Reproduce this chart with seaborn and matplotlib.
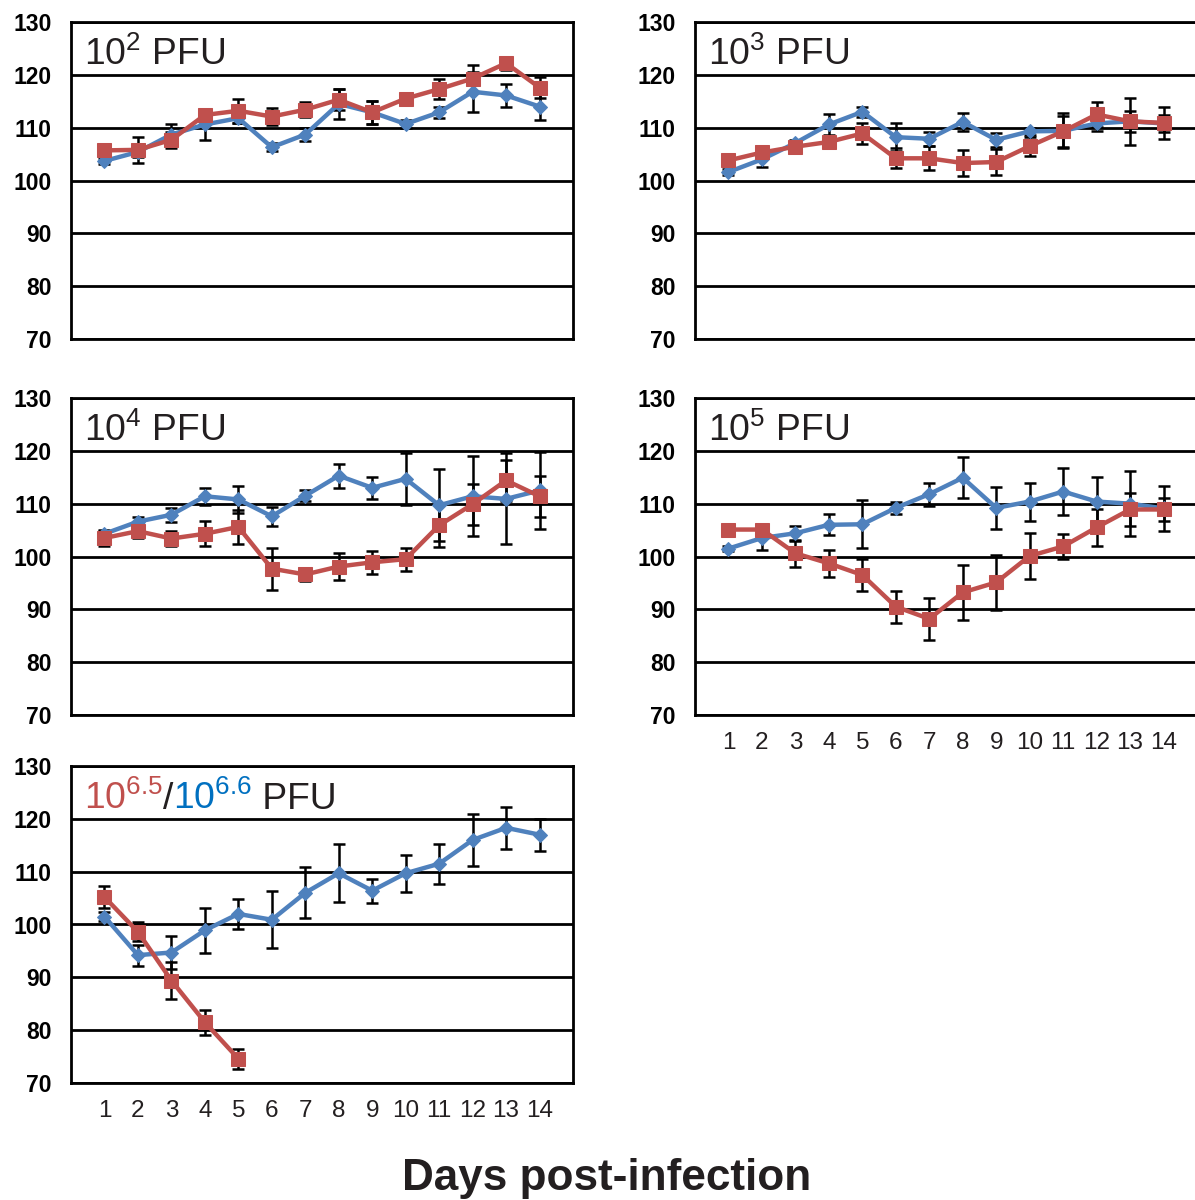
import matplotlib
matplotlib.use('Agg')
import matplotlib.pyplot as plt
import seaborn as sns

days = list(range(1, 15))

# 10^2 PFU
p2_blue = [103.7, 105.4, 108.7, 110.6, 111.8, 106.3, 108.7, 114.5, 112.9, 110.7, 112.9, 116.8, 116.1, 114.0]
p2_blue_err = [0.6, 1.0, 1.9, 3.0, 1.0, 0.8, 1.3, 2.9, 2.2, 0.7, 1.0, 3.8, 2.1, 2.6]
p2_red = [105.7, 105.8, 107.7, 112.4, 113.2, 112.1, 113.4, 115.3, 112.9, 115.5, 117.3, 119.3, 122.2, 117.6]
p2_red_err = [0.5, 2.4, 1.5, 1.2, 2.3, 1.6, 1.4, 2.0, 2.2, 0.5, 1.9, 2.5, 1.2, 1.9]

# 10^3 PFU
p3_blue = [101.6, 104.0, 107.1, 110.6, 113.0, 108.2, 107.9, 111.1, 107.7, 109.3, 109.4, 110.8, 111.2, 110.8]
p3_blue_err = [0.5, 1.5, 0.6, 1.9, 1.0, 2.7, 1.3, 1.7, 1.3, 0.6, 3.3, 1.4, 2.0, 1.6]
p3_red = [103.8, 105.3, 106.4, 107.3, 108.9, 104.2, 104.2, 103.3, 103.5, 106.5, 109.3, 112.5, 111.2, 110.9]
p3_red_err = [0.5, 0.8, 0.7, 0.8, 1.9, 1.9, 2.3, 2.4, 2.5, 1.8, 3.0, 2.4, 4.4, 3.1]

# 10^4 PFU
p4_blue = [104.3, 106.6, 107.9, 111.4, 110.8, 107.6, 111.5, 115.3, 113.0, 114.7, 109.7, 111.4, 110.9, 112.5]
p4_blue_err = [0.5, 0.8, 1.3, 1.6, 2.5, 1.8, 1.0, 2.3, 2.1, 4.9, 6.8, 7.6, 8.6, 7.3]
p4_red = [103.5, 104.8, 103.4, 104.3, 105.6, 97.7, 96.6, 98.1, 98.9, 99.5, 105.9, 109.9, 114.4, 111.4]
p4_red_err = [1.6, 1.3, 1.5, 2.4, 3.2, 4.0, 1.2, 2.5, 2.2, 2.2, 4.1, 3.9, 3.9, 3.9]

# 10^5 PFU
p5_blue = [101.5, 103.5, 104.4, 106.0, 106.1, 109.2, 111.8, 114.9, 109.2, 110.4, 112.3, 110.4, 110.0, 109.1]
p5_blue_err = [0.5, 2.3, 1.4, 2.0, 4.5, 1.2, 2.2, 3.9, 4.0, 3.6, 4.4, 4.7, 6.1, 4.2]
p5_red = [105.1, 105.1, 100.6, 98.7, 96.5, 90.5, 88.2, 93.2, 95.1, 100.1, 101.9, 105.5, 108.9, 108.9]
p5_red_err = [0.5, 0.5, 2.6, 2.6, 3.1, 3.0, 4.0, 5.2, 5.2, 4.4, 2.4, 3.5, 3.1, 2.1]

# 10^6.5 / 10^6.6 PFU
p6_blue = [101.5, 94.2, 94.7, 98.9, 102.0, 100.9, 106.0, 109.7, 106.4, 109.7, 111.5, 116.0, 118.3, 117.0]
p6_blue_err = [0.8, 2.0, 3.1, 4.3, 2.9, 5.4, 4.8, 5.5, 2.3, 3.5, 3.8, 5.0, 4.0, 3.0]
red_days = [1, 2, 3, 4, 5]
p6_red = [105.2, 98.6, 89.4, 81.5, 74.6]
p6_red_err = [2.0, 1.8, 3.5, 2.4, 1.9]

RED = '#C0504D'
BLUE = '#4F81BD'
TXT = '#231F20'

sns.set_style('white')
plt.rcParams['font.family'] = ['Liberation Sans', 'DejaVu Sans']
plt.rcParams['mathtext.default'] = 'regular'

fig = plt.figure(figsize=(11.95, 12), dpi=100)


def make_ax(left_px, top_px, xlabels):
    ax = fig.add_axes([left_px / 1195, 1 - (top_px + 317) / 1200, 502 / 1195, 317 / 1200])
    ax.set_xlim(0, 15)
    ax.set_ylim(70, 130)
    ax.set_yticks(range(70, 131, 10))
    ax.set_xticks(days)
    ax.yaxis.grid(True, color='black', linewidth=2.0)
    ax.xaxis.grid(False)
    ax.set_axisbelow(True)
    for s in ax.spines.values():
        s.set_color('black')
        s.set_linewidth(2.0)
    ax.tick_params(axis='y', length=0, pad=14, labelsize=16.5, labelcolor='black')
    for lab in ax.get_yticklabels():
        lab.set_fontweight('bold')
    ax.tick_params(axis='x', direction='in', length=5, width=1.8, color='black',
                   pad=12, labelsize=17.5, labelcolor=TXT, labelbottom=xlabels)
    return ax


def draw(ax, xb, b, be, xr, r, re):
    ax.errorbar(xb, b, yerr=be, fmt='none', ecolor='black', elinewidth=1.8,
                capsize=4, capthick=1.8, zorder=2)
    ax.errorbar(xr, r, yerr=re, fmt='none', ecolor='black', elinewidth=1.8,
                capsize=4, capthick=1.8, zorder=2)
    sns.lineplot(x=xb, y=b, ax=ax, color=BLUE, marker='D', markersize=7.5,
                 markeredgecolor=BLUE, linewidth=3.2, zorder=3)
    sns.lineplot(x=xr, y=r, ax=ax, color=RED, marker='s', markersize=10,
                 markeredgecolor=RED, linewidth=3.2, zorder=4)
    ax.set_xlabel('')
    ax.set_ylabel('')


ax1 = make_ax(71, 22, False)
draw(ax1, days, p2_blue, p2_blue_err, days, p2_red, p2_red_err)
ax1.text(0.026, 0.864, r'$10^{2}$ PFU', transform=ax1.transAxes, fontsize=26.8,
         color=TXT, va='baseline')

ax2 = make_ax(695, 22, False)
draw(ax2, days, p3_blue, p3_blue_err, days, p3_red, p3_red_err)
ax2.text(0.026, 0.864, r'$10^{3}$ PFU', transform=ax2.transAxes, fontsize=26.8,
         color=TXT, va='baseline')

ax3 = make_ax(71, 398, False)
draw(ax3, days, p4_blue, p4_blue_err, days, p4_red, p4_red_err)
ax3.text(0.026, 0.864, r'$10^{4}$ PFU', transform=ax3.transAxes, fontsize=26.8,
         color=TXT, va='baseline')

ax4 = make_ax(695, 398, True)
draw(ax4, days, p5_blue, p5_blue_err, days, p5_red, p5_red_err)
ax4.text(0.026, 0.864, r'$10^{5}$ PFU', transform=ax4.transAxes, fontsize=26.8,
         color=TXT, va='baseline')

ax5 = make_ax(71, 766, True)
draw(ax5, days, p6_blue, p6_blue_err, red_days, p6_red, p6_red_err)
t1 = ax5.text(0.026, 0.864, r'$10^{6.5}$', transform=ax5.transAxes, fontsize=26.8,
              color=RED, va='baseline')
t2 = ax5.annotate('/', xy=(1, 0), xycoords=t1, fontsize=26.8, color=TXT, va='bottom')
t3 = ax5.annotate(r'$10^{6.6}$', xy=(1, 0), xycoords=t2, fontsize=26.8, color='#0070C0', va='bottom')
ax5.annotate(' PFU', xy=(1, 0), xycoords=t3, fontsize=26.8, color=TXT, va='bottom')

fig.text(0.508, 1 - 1190 / 1200, 'Days post-infection', ha='center', va='baseline',
         fontsize=31.8, fontweight='bold', color=TXT)

fig.savefig('out.png', dpi=100)
